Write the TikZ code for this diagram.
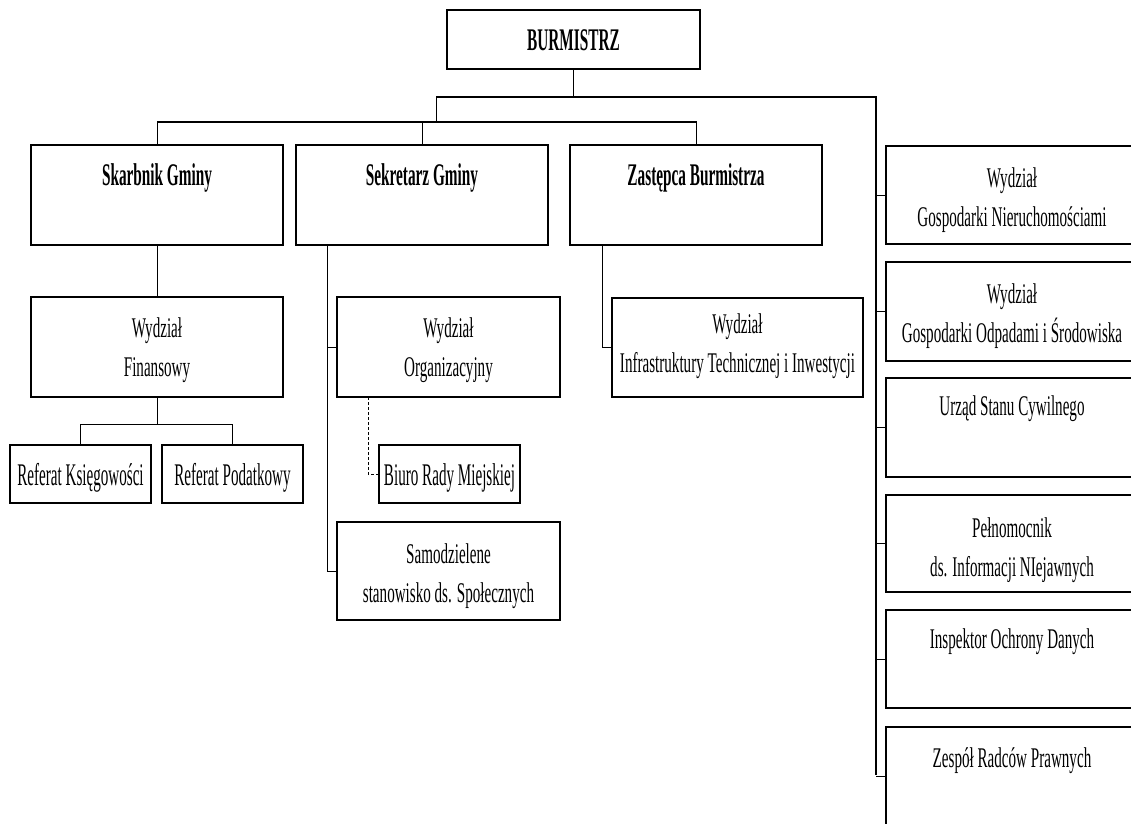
\documentclass[tikz,border=0pt]{standalone}
\usepackage{fontspec}
\setmainfont{Liberation Serif}[FakeStretch=0.53, BoldFeatures={FakeStretch=0.485}]
\newfontfamily\narrowfont{Liberation Serif}[FakeStretch=0.48]
\newcommand\boxtext[4][40pt]{\parbox[c][#3][t]{#2}{\centering\fontsize{28.5}{39}\selectfont\rule{0pt}{#1}#4}}
\newcommand\bt[1]{\bfseries\fontsize{31.5}{39}\selectfont #1}
\newcommand\nt[1]{\narrowfont\fontsize{31.5}{39}\selectfont #1}
\tikzset{
  box/.style={draw, line width=1.7pt, inner sep=0pt, outer sep=0pt, anchor=north west},
  conn/.style={line width=1pt},
  bus/.style={line width=1.8pt},
  dconn/.style={line width=0.8pt, dashed, dash pattern=on 3pt off 2pt},
}
\begin{document}
\begin{tikzpicture}[x=1pt, y=-1pt]
\useasboundingbox (0,0) rectangle (1131,823);
\clip (0,0) rectangle (1131,823);
\fill[white] (0,0) rectangle (1131,823);
% boxes
\node[box] (burm)  at (447,10)  {\boxtext{253pt}{59pt}{\bt{BURMISTRZ}}};
\node[box] (skarb) at (31,145)  {\boxtext{252pt}{100pt}{\bt{Skarbnik Gminy}}};
\node[box] (sekr)  at (296,145) {\boxtext{252pt}{100pt}{\bt{Sekretarz Gminy}}};
\node[box] (zast)  at (570,145) {\boxtext{252pt}{100pt}{\bt{Zastępca Burmistrza}}};
\node[box] (fin)   at (31,297)  {\boxtext{252pt}{100pt}{Wydział\\Finansowy}};
\node[box] (refk)  at (10,445)  {\boxtext{141pt}{58pt}{\nt{Referat Księgowości}}};
\node[box] (refp)  at (162,445) {\boxtext{141pt}{58pt}{\nt{Referat Podatkowy}}};
\node[box] (org)   at (337,297) {\boxtext{223pt}{100pt}{Wydział\\Organizacyjny}};
\node[box] (biuro) at (379,445) {\boxtext{141pt}{58pt}{\nt{Biuro Rady Miejskiej}}};
\node[box] (samo)  at (337,522) {\boxtext[41pt]{223pt}{98pt}{Samodzielene\\stanowisko ds. Społecznych}};
\node[box] (infra) at (612,298) {\boxtext[35pt]{251pt}{99pt}{Wydział\\Infrastruktury Technicznej i Inwestycji}};
\node[box] (r1) at (886,146) {\boxtext[41pt]{252pt}{98pt}{Wydział\\Gospodarki Nieruchomościami}};
\node[box] (r2) at (886,262) {\boxtext[41pt]{252pt}{99pt}{Wydział\\Gospodarki Odpadami i Środowiska}};
\node[box] (r3) at (886,378) {\boxtext[37pt]{252pt}{99pt}{Urząd Stanu Cywilnego}};
\node[box] (r4) at (886,495) {\boxtext[42pt]{252pt}{97pt}{Pełnomocnik\\ds. Informacji NIejawnych}};
\node[box] (r5) at (886,610) {\boxtext[38pt]{252pt}{98pt}{Inspektor Ochrony Danych}};
\node[box] (r6) at (886,727) {\boxtext[40pt]{252pt}{98pt}{Zespół Radców Prawnych}};
% bus coordinates
\coordinate (b1) at (436,97);
\coordinate (b2) at (876,97);
\coordinate (b3) at (876,775);
\coordinate (c1) at (157,122);
\coordinate (c2) at (697,122);
\coordinate (fj) at (157,424);
\coordinate (s1) at (327,245);
\coordinate (d1) at (368,397);
\coordinate (z1) at (602,245);
% connectors
\draw[conn] (burm.south) -- (burm.south |- b1);
\draw[bus] (b1) -- (b2) -- (b3);
\draw[conn] (b1) -- (b1 |- c1);
\draw[bus] (c1) -- (c2);
\draw[conn] (skarb.north |- c1) -- (skarb.north);
\draw[conn] (sekr.north |- c1) -- (sekr.north);
\draw[conn] (zast.north |- c1) -- (zast.north);
\draw[conn] (skarb.south) -- (fin.north);
\draw[conn] (fin.south) -- (fj);
\draw[conn] (refk.north) |- (fj) -| (refp.north);
\draw[conn] (s1) |- (samo.west);
\draw[conn] (s1 |- org.west) -- (org.west);
\draw[dconn] (d1) |- (biuro.west);
\draw[conn] (z1) |- (infra.west);
\foreach \r in {r1,r2,r3,r4,r5,r6} \draw[conn] (\r.west -| b2) -- (\r.west);
\end{tikzpicture}
\end{document}
